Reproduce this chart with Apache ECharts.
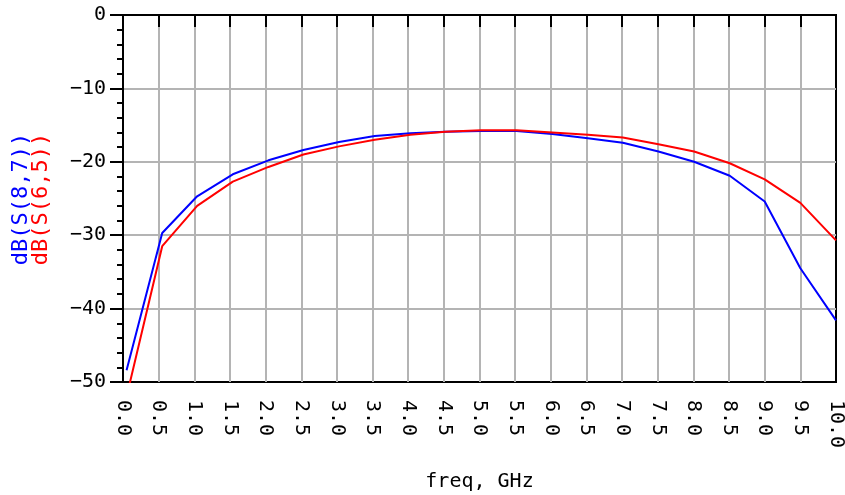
<!DOCTYPE html>
<html>
<head>
<meta charset="utf-8">
<script src="https://cdn.jsdelivr.net/npm/echarts@6/dist/echarts.min.js"></script>
<style>
  html, body { margin: 0; padding: 0; background: #fff; }
  #chart-container { width: 845px; height: 495px; }
</style>
</head>
<body>
<div id="chart-container"></div>
<script>
// sweep points (GHz)
var freq = [0.05, 0.55, 1.04, 1.54, 2.04, 2.53, 3.03, 3.53, 4.03, 4.52, 5.02,
            5.52, 6.02, 6.52, 7.01, 7.51, 8.01, 8.51, 9.0, 9.5, 10.0];
// dB(S(8,7))
var s87 = [-48.4, -29.7, -24.7, -21.7, -19.8, -18.4, -17.3, -16.5, -16.1, -15.9, -15.8,
           -15.8, -16.2, -16.8, -17.4, -18.6, -20.0, -21.9, -25.4, -34.5, -41.6];
// dB(S(6,5))
var s65 = [-52.0, -31.5, -26.0, -22.7, -20.7, -19.0, -17.9, -17.0, -16.3, -15.9, -15.7,
           -15.7, -16.0, -16.3, -16.7, -17.6, -18.6, -20.2, -22.4, -25.6, -30.7];
var seriesNames = ["dB(S(8,7))", "dB(S(6,5))"];
var xName = "freq, GHz";

var FONT = "DejaVu Sans Mono";

function pairs(ys) {
  return ys.map(function (v, i) { return [freq[i], v]; });
}

var chartDom = document.getElementById("chart-container");
var myChart = echarts.init(chartDom);

var option = {
  animation: false,
  backgroundColor: "#fff",
  grid: {
    left: 123, right: 9, top: 15, bottom: 113,
    outerBoundsMode: "none", containLabel: false,
    show: true, borderColor: "#000", borderWidth: 2
  },
  xAxis: {
    type: "value", min: 0, max: 10, interval: 0.5,
    name: xName, nameLocation: "middle", nameGap: 90,
    nameTextStyle: { fontFamily: FONT, fontSize: 20, color: "#000" },
    axisLine: { lineStyle: { color: "#000", width: 2 } },
    axisTick: { length: 12, lineStyle: { color: "#000", width: 2 } },
    axisLabel: {
      rotate: -90, margin: 18, color: "#000",
      fontFamily: FONT, fontSize: 20,
      formatter: function (v) { return v.toFixed(1); }
    },
    splitLine: { show: true, showMinLine: false, showMaxLine: false,
      lineStyle: { color: "#b4b4b4", width: 2 } }
  },
  yAxis: {
    type: "value", min: -50, max: 0, interval: 10,
    axisLine: { show: true, lineStyle: { color: "#000", width: 2 } },
    axisTick: { show: true, length: 13, lineStyle: { color: "#000", width: 2 } },
    minorTick: { show: true, splitNumber: 5, length: 6, lineStyle: { color: "#000", width: 2 } },
    axisLabel: {
      margin: 17, color: "#000", fontFamily: FONT, fontSize: 20,
      formatter: function (v) { return v === 0 ? "0" : "\u2212" + Math.abs(v); }
    },
    splitLine: { show: true, showMinLine: false, showMaxLine: false,
      lineStyle: { color: "#b4b4b4", width: 2 } }
  },
  graphic: [
    { type: "text", x: 21, y: 199, rotation: Math.PI / 2,
      style: { text: seriesNames[0], fill: "#0000ff", font: "22px " + FONT,
               align: "center", verticalAlign: "middle" } },
    { type: "text", x: 41, y: 199, rotation: Math.PI / 2,
      style: { text: seriesNames[1], fill: "#ff0000", font: "22px " + FONT,
               align: "center", verticalAlign: "middle" } }
  ],
  series: [
    { name: seriesNames[0], type: "line", data: pairs(s87), symbol: "none",
      clip: true, lineStyle: { color: "#0000ff", width: 2 }, z: 3 },
    { name: seriesNames[1], type: "line", data: pairs(s65), symbol: "none",
      clip: true, lineStyle: { color: "#ff0000", width: 2 }, z: 4 }
  ]
};

option && myChart.setOption(option);
</script>
</body>
</html>
